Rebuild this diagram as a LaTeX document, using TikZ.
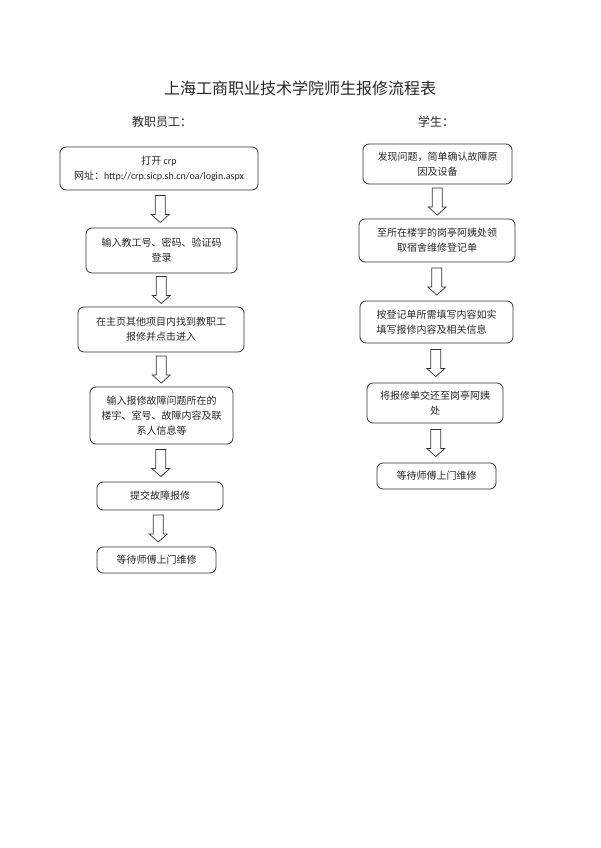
\documentclass[tikz,border=0pt]{standalone}
\usepackage{fontspec}
\setmainfont{Noto Sans CJK SC}
\newfontfamily\latin{Carlito}
\usetikzlibrary{calc}

\tikzset{
  box/.style={draw=black!80, line width=0.8pt, rounded corners=6pt, align=center,
    inner sep=0pt, text=black!85, font=\fontsize{10}{15}\selectfont},
  arrowline/.style={draw=black!80, line width=0.7pt, fill=white, line join=miter}
}
% hollow block arrow between two boxes
\newcommand{\flowarrow}[2]{%
  \draw[arrowline] ($(#1.south)!0.5!(#2.north)$) ++(-5,-13.5) -- ++(10,0) -- ++(0,19)
    -- ++(4,0) -- ++(-9,8) -- ++(-9,-8) -- ++(4,0) -- cycle;}

\begin{document}
\begin{tikzpicture}[x=1pt,y=-1pt]
\useasboundingbox (0,0) rectangle (600,848);
\node[text=black!85] (title) at (300,88) {\fontsize{16}{20}\selectfont 上海工商职业技术学院师生报修流程表};
\node[text=black!85] (staff) at (162,122) {\fontsize{12}{15}\selectfont 教职员工：};
\node[text=black!85] (student) at (436,122) {\fontsize{12}{15}\selectfont 学生：};

% teachers and staff
\node[box, minimum width=198pt, minimum height=43pt] (t1) at (159,168.5) {打开 {\latin crp}\\网址：{\latin http://crp.sicp.sh.cn/oa/login.aspx}};
\node[box, minimum width=151pt, minimum height=45pt] (t2) at (161.5,250.5) {输入教工号、密码、验证码\\登录};
\node[box, minimum width=166pt, minimum height=45pt] (t3) at (161,329.5) {在主页其他项目内找到教职工\\报修并点击进入};
\node[box, minimum width=143pt, minimum height=57pt] (t4) at (161.5,415.5) {输入报修故障问题所在的\\楼宇、室号、故障内容及联\\系人信息等};
\node[box, minimum width=126pt, minimum height=28pt] (t5) at (160,496) {提交故障报修};
\node[box, minimum width=119pt, minimum height=26pt] (t6) at (156.5,560) {等待师傅上门维修};

% students
\node[box, minimum width=149pt, minimum height=40pt] (s1) at (437.5,164) {发现问题，简单确认故障原\\因及设备};
\node[box, minimum width=156pt, minimum height=43pt] (s2) at (437,240.5) {至所在楼宇的岗亭阿姨处领\\取宿舍维修登记单};
\node[box, minimum width=153pt, minimum height=42pt, align=left] (s3) at (436.5,322) {按登记单所需填写内容如实\\填写报修内容及相关信息};
\node[box, minimum width=136pt, minimum height=40pt] (s4) at (435,403) {将报修单交还至岗亭阿姨\\处};
\node[box, minimum width=119pt, minimum height=26pt] (s5) at (436.5,476) {等待师傅上门维修};

\flowarrow{t1}{t2}
\flowarrow{t2}{t3}
\flowarrow{t3}{t4}
\flowarrow{t4}{t5}
\flowarrow{t5}{t6}
\flowarrow{s1}{s2}
\flowarrow{s2}{s3}
\flowarrow{s3}{s4}
\flowarrow{s4}{s5}
\end{tikzpicture}
\end{document}
